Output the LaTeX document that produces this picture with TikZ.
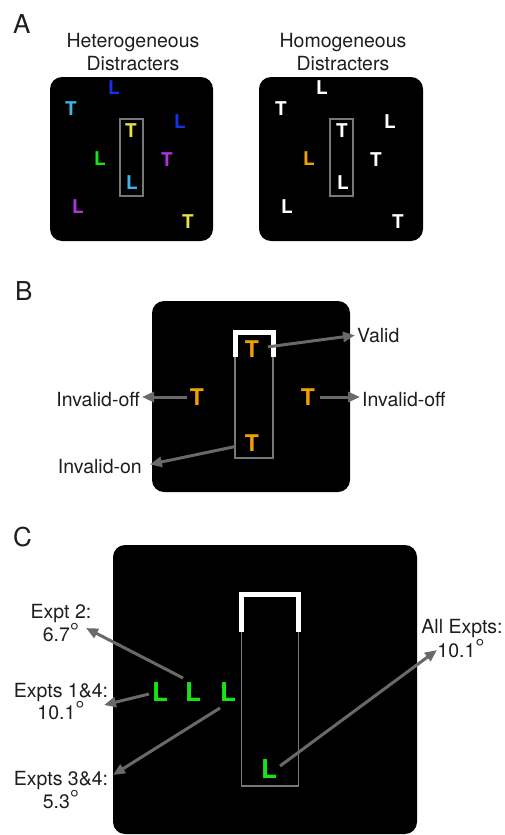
\documentclass[tikz,border=0pt]{standalone}
\usepackage{fontspec}
\setmainfont{TeX Gyre Heros}
\usetikzlibrary{arrows.meta}
\definecolor{cblue}{RGB}{20,50,230}
\definecolor{ccyan}{RGB}{60,180,230}
\definecolor{cyel}{RGB}{230,225,70}
\definecolor{cgreen}{RGB}{20,230,20}
\definecolor{cpurp}{RGB}{175,50,225}
\definecolor{corange}{RGB}{240,160,0}
\definecolor{arrowgray}{RGB}{105,105,105}
\definecolor{framegray}{RGB}{120,120,120}
\definecolor{txt}{RGB}{30,30,30}
\newcommand\degsym{\raisebox{1.5pt}{\fontsize{23}{23}\selectfont °}}
\begin{document}
\begin{tikzpicture}[x=1pt,y=-1pt,
  panel/.style={fill=black, rounded corners=12pt},
  lbl/.style={font=\fontsize{19.5}{23}\selectfont, inner sep=0pt, text=txt, anchor=base},
  plet/.style={font=\fontsize{26}{26}\selectfont, inner sep=0pt, text=txt, anchor=base west},
  letA/.style={font=\fontsize{19}{19}\selectfont\bfseries, inner sep=0pt},
  letB/.style={font=\fontsize{23}{23}\selectfont\bfseries, inner sep=0pt, text=corange},
  letC/.style={font=\fontsize{26}{26}\selectfont\bfseries, inner sep=0pt, text=cgreen},
  frameA/.style={draw=framegray, line width=2pt},
  frameBC/.style={draw=framegray, line width=1.5pt},
  cue/.style={draw=white, line width=5pt, miter limit=10},
  ptr/.style={draw=arrowgray, line width=3pt, -{Triangle[length=12pt,width=10pt]}}
]
\useasboundingbox (0,0) rectangle (505,835);

% ---------- Panel A ----------
\node[plet] (pA) at (13,33) {A};
\node[lbl] (h1) at (133,47) {Heterogeneous};
\node[lbl] (h2) at (133,70) {Distracters};
\node[lbl] (m1) at (343,47) {Homogeneous};
\node[lbl] (m2) at (343,70) {Distracters};

\fill[panel] (50,77) rectangle (213,241);
\fill[panel] (259,77) rectangle (423,241);
\draw[frameA] (120,119) rectangle (143,196);
\draw[frameA] (330,119) rectangle (353,196);

% heterogeneous
\node[letA, text=cblue] (a1) at (114,88) {L};
\node[letA, text=ccyan] (a2) at (71,109) {T};
\node[letA, text=cyel] (a3) at (131,131) {T};
\node[letA, text=cblue] (a4) at (180,122) {L};
\node[letA, text=cgreen] (a5) at (100,159) {L};
\node[letA, text=cpurp] (a6) at (167,160) {T};
\node[letA, text=ccyan] (a7) at (132,183) {L};
\node[letA, text=cpurp] (a8) at (78,207) {L};
\node[letA, text=cyel] (a9) at (188,222) {T};
% homogeneous
\node[letA, text=white] (b1) at (322,88) {L};
\node[letA, text=white] (b2) at (281,109) {T};
\node[letA, text=white] (b3) at (342,131) {T};
\node[letA, text=white] (b4) at (390,122) {L};
\node[letA, text=corange] (b5) at (309,159) {L};
\node[letA, text=white] (b6) at (376,160) {T};
\node[letA, text=white] (b7) at (343,183) {L};
\node[letA, text=white] (b8) at (287,207) {L};
\node[letA, text=white] (b9) at (398,222) {T};

% ---------- Panel B ----------
\node[plet] (pB) at (15,300) {B};
\fill[panel] (152,301) rectangle (350,492);
\draw[frameBC] (235,332) rectangle (273,458);
\draw[cue] (235,357) -- (235,332) -- (273,332) -- (273,357);

\node[letB] (Tv) at (252,349) {T};
\node[letB] (Tl) at (197,397) {T};
\node[letB] (Tr) at (308,397) {T};
\node[letB] (Tb) at (252,443) {T};

\node[lbl, anchor=base west] (valid) at (357,342) {Valid};
\node[lbl, anchor=base east] (offL) at (140,406) {Invalid-off};
\node[lbl, anchor=base west] (offR) at (362,406) {Invalid-off};
\node[lbl, anchor=base east] (on) at (142,473) {Invalid-on};

\draw[ptr, shorten <=16pt, shorten >=2pt] (Tv.center) -- (valid.west);
\draw[ptr, shorten <=10pt, shorten >=2pt] (Tl.center) -- (Tl.center -| offL.east);
\draw[ptr, shorten <=12pt, shorten >=2pt] (Tr.center) -- (Tr.center -| offR.west);
\draw[ptr, shorten <=17pt, shorten >=8pt] (Tb.center) -- (on.east);

% ---------- Panel C ----------
\node[plet] (pC) at (13,546) {C};
\fill[panel] (113,545) rectangle (417,834);
\draw[frameBC] (241.5,594) rectangle (298.5,786);
\draw[cue] (241.5,632) -- (241.5,594) -- (298.5,594) -- (298.5,632);

\node[letC] (L1) at (160,692) {L};
\node[letC] (L2) at (193,692) {L};
\node[letC] (L3) at (228,692) {L};
\node[letC] (Lb) at (269,769) {L};

\node[lbl] (e2a) at (61,618) {Expt 2:};
\node[lbl] (e2b) at (61,641) {6.7\degsym};
\node[lbl] (e14a) at (61,697) {Expts 1\&4:};
\node[lbl] (e14b) at (61,719) {10.1\degsym};
\node[lbl] (e34a) at (61,785) {Expts 3\&4:};
\node[lbl] (e34b) at (61,808) {5.3\degsym};
\node[lbl] (alla) at (462,633) {All Expts:};
\node[lbl] (allb) at (461,657) {10.1\degsym};

\coordinate (s2) at (183,678);  \coordinate (t2) at (86,628);
\coordinate (s14) at (149,694); \coordinate (t14) at (104,705);
\coordinate (s34) at (220,708); \coordinate (t34) at (113,775);
\coordinate (sall) at (280,766); \coordinate (tall) at (437,650);

\draw[ptr] (s2) -- (t2);
\draw[ptr] (s14) -- (t14);
\draw[ptr] (s34) -- (t34);
\draw[ptr] (sall) -- (tall);
\end{tikzpicture}
\end{document}
